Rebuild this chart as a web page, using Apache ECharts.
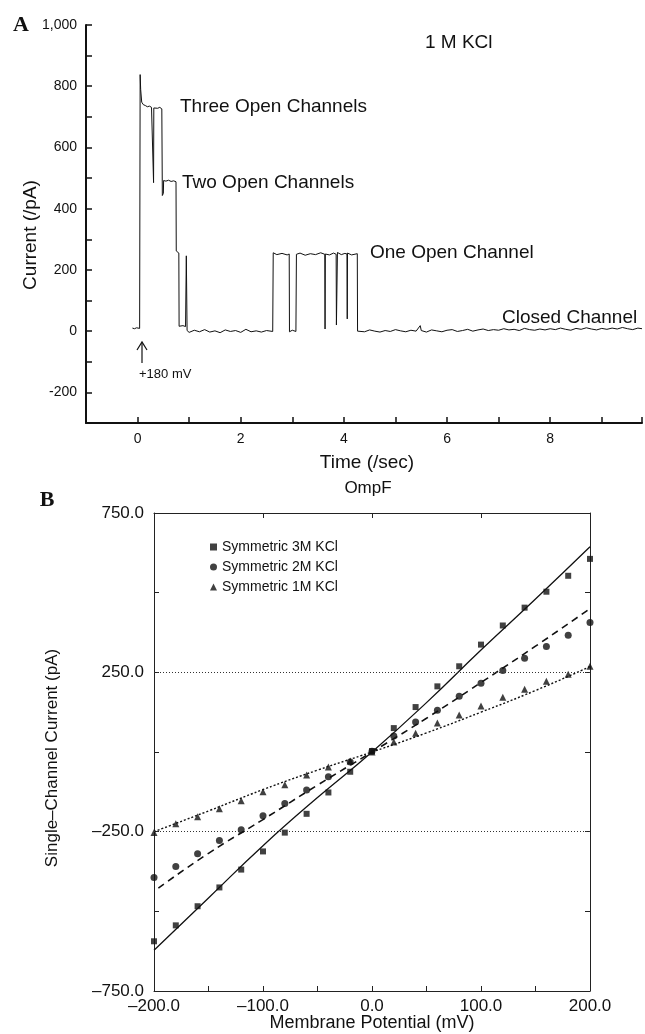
<!DOCTYPE html>
<html>
<head>
<meta charset="utf-8">
<script src="https://cdn.jsdelivr.net/npm/echarts@6/dist/echarts.min.js"></script>
<style>
html, body { margin: 0; padding: 0; background: #fff; }
#main { width: 645px; height: 1034px; }
</style>
</head>
<body>
<div id="main"></div>
<script>
// A: single channel current trace, 1 M KCl (time in sec, current in pA)
var traceT = [-0.10, -0.06, -0.02, 0.04,
	0.05, 0.06, 0.08, 0.11, 0.15, 0.19, 0.23, 0.27, 0.305, 0.31, 0.315, 0.35, 0.39, 0.43, 0.47,
	0.48, 0.50, 0.505, 0.55, 0.60, 0.65, 0.70, 0.745,
	0.75, 0.78, 0.80, 0.805, 0.84, 0.88, 0.93, 0.945, 0.955, 0.96,
	1.0, 1.1, 1.2, 1.3, 1.4, 1.5, 1.6, 1.7, 1.8, 1.9, 2.0, 2.1, 2.2, 2.3, 2.4, 2.5, 2.62,
	2.63, 2.7, 2.8, 2.9, 2.94, 2.945, 3.0, 3.07,
	3.08, 3.15, 3.25, 3.35, 3.45, 3.55, 3.63, 3.635, 3.64, 3.72, 3.8, 3.85, 3.855, 3.87, 3.875,
	3.95, 4.02, 4.06, 4.065, 4.07, 4.15, 4.26, 4.265,
	4.3, 4.4, 4.5, 4.6, 4.7, 4.8, 4.9, 5.0, 5.1, 5.2, 5.3, 5.4, 5.48, 5.5, 5.6, 5.7, 5.8, 5.9,
	6.0, 6.1, 6.2, 6.3, 6.4, 6.5, 6.6, 6.7, 6.8, 6.9, 7.0, 7.1, 7.2, 7.3, 7.4, 7.5, 7.6, 7.7, 7.8, 7.9,
	8.0, 8.1, 8.2, 8.3, 8.4, 8.5, 8.6, 8.7, 8.8, 8.9, 9.0, 9.1, 9.2, 9.3, 9.4, 9.5, 9.6, 9.7, 9.78];
var traceI = [10, 8, 11, 9,
	838, 790, 748, 740, 737, 733, 735, 731, 733, 485, 729, 733, 728, 731, 726,
	443, 450, 492, 490, 493, 489, 491, 488,
	262, 258, 255, 16, 14, 18, 15, 246, 240, 2,
	-4, 3, -2, 5, -3, 1, -5, 4, -1, 2, -4, 6, -2, 1, -3, 2, -1,
	256, 250, 254, 249, 252, -2, 3, -1,
	251, 255, 248, 253, 250, 256, 251, 7, 252, 249, 255, 251, 20, 18, 257,
	250, 254, 252, 40, 255, 249, 253, 0,
	3, -2, 4, 0, -3, 2, -1, 5, 1, -2, 3, 0, 18, 2, -3, 4, 1, -2,
	3, 5, -1, 2, 6, 0, 4, 7, 2, 5, 3, 8, 4, 6, 2, 9, 5, 3, 7, 4,
	8, 5, 10, 6, 3, 9, 6, 11, 7, 4, 9, 6, 10, 7, 12, 8, 5, 10, 8];

// B: OmpF I-V, membrane potential (mV) vs single-channel current (pA)
var potential = [-200, -180, -160, -140, -120, -100, -80, -60, -40, -20, 0,
	20, 40, 60, 80, 100, 120, 140, 160, 180, 200];
var kcl3M = [-594, -544, -484, -425, -369, -312, -253, -194, -127, -62, 3,
	75, 141, 206, 269, 337, 397, 453, 503, 553, 606];
var kcl2M = [-394, -359, -319, -278, -244, -200, -162, -119, -78, -31, 2,
	50, 94, 131, 175, 216, 256, 294, 331, 366, 406];
var kcl1M = [-253, -225, -203, -178, -153, -125, -103, -72, -47, -28, 0,
	31, 59, 91, 116, 144, 172, 197, 222, 244, 269];
// fitted curves
var fitV = [-200, -150, -100, -50, 0, 50, 100, 150, 200];
var fitV2 = [-196, -150, -100, -50, 0, 50, 100, 150, 200];
var fit3M = [-622, -458, -294, -143, 0, 155, 320, 480, 644];
var fit2M = [-427, -318, -212, -104, 0, 106, 218, 332, 450];
var fit1M = [-250, -185, -118, -57, 0, 60, 125, 193, 268];
var refLines = [250, -250];

var seriesNames = ['Symmetric 3M KCl', 'Symmetric 2M KCl', 'Symmetric 1M KCl'];

function pairs(xs, ys) {
	var out = [];
	for (var i = 0; i < xs.length; i++) {
		out.push([xs[i], ys[i]]);
	}
	return out;
}

var FONT = "'Liberation Sans', Arial, sans-serif";
var INK = '#111';

// minus sign in panel B looks like a dash
function fmtB(v) {
	var s = Math.abs(v).toFixed(1);
	return v < 0 ? '\u2013' + s : s;
}

var myChart = echarts.init(document.getElementById('main'));

var option = {
	backgroundColor: '#fff',
	animation: false,
	textStyle: { fontFamily: FONT, color: INK },
	grid: [
		{ left: 86, top: 25, right: 0, height: 398 },
		{ left: 154, top: 513, width: 436, height: 478 }
	],
	xAxis: [
		{
			type: 'value', gridIndex: 0, min: -1, max: 9.78, interval: 1,
			axisLine: { onZero: false, lineStyle: { color: INK, width: 2 } },
			axisTick: { inside: true, length: 6, lineStyle: { color: INK, width: 1.5 } },
			axisLabel: {
				fontSize: 14, color: INK, margin: 9,
				formatter: function(v) { return (v % 2 === 0) ? String(v) : ''; }
			},
			splitLine: { show: false }
		},
		{
			type: 'value', gridIndex: 1, min: -200, max: 200, interval: 50,
			axisLine: { onZero: false, lineStyle: { color: '#222', width: 1 } },
			axisTick: { inside: true, length: 5, lineStyle: { color: '#222' } },
			axisLabel: {
				fontSize: 17, color: INK, margin: 7,
				formatter: function(v) { return (v % 100 === 0) ? fmtB(v) : ''; }
			},
			splitLine: { show: false }
		},
		{
			type: 'value', gridIndex: 1, position: 'top', min: -200, max: 200, interval: 100,
			axisLine: { onZero: false, lineStyle: { color: '#222', width: 1 } },
			axisTick: { inside: true, length: 5, lineStyle: { color: '#222' } },
			axisLabel: { show: false },
			splitLine: { show: false }
		}
	],
	yAxis: [
		{
			type: 'value', gridIndex: 0, min: -300, max: 1000, interval: 100,
			axisLine: { show: true, onZero: false, lineStyle: { color: INK, width: 2 } },
			axisTick: { show: true, inside: true, length: 6, lineStyle: { color: INK, width: 1.5 } },
			axisLabel: {
				fontSize: 14, color: INK, margin: 9,
				formatter: function(v) {
					if (v % 200 !== 0) return '';
					return v === 1000 ? '1,000' : String(v);
				}
			},
			splitLine: { show: false }
		},
		{
			type: 'value', gridIndex: 1, min: -750, max: 750, interval: 250,
			axisLine: { show: true, onZero: false, lineStyle: { color: '#222', width: 1 } },
			axisTick: { show: true, inside: true, length: 5, lineStyle: { color: '#222' } },
			axisLabel: {
				fontSize: 17, color: INK, margin: 10,
				formatter: function(v) { return (v % 500 !== 0) ? fmtB(v) : ''; }
			},
			splitLine: { show: false }
		},
		{
			type: 'value', gridIndex: 1, position: 'right', min: -750, max: 750, interval: 250,
			axisLine: { show: true, onZero: false, lineStyle: { color: '#222', width: 1 } },
			axisTick: { show: true, inside: true, length: 5, lineStyle: { color: '#222' } },
			axisLabel: { show: false },
			splitLine: { show: false }
		}
	],
	legend: {
		data: seriesNames,
		orient: 'vertical',
		left: 205, top: 535,
		itemWidth: 7, itemHeight: 7, itemGap: 6,
		textStyle: { fontSize: 14, color: INK, lineHeight: 14 }
	},
	graphic: [
		{ type: 'text', x: 21, y: 25, style: { text: 'A', font: 'bold 22px "Liberation Serif", serif', fill: INK, align: 'center', verticalAlign: 'middle' } },
		{ type: 'text', x: 47, y: 500, style: { text: 'B', font: 'bold 22px "Liberation Serif", serif', fill: INK, align: 'center', verticalAlign: 'middle' } },
		{ type: 'text', x: 31, y: 235, rotation: Math.PI / 2, style: { text: 'Current (/pA)', font: '19px ' + FONT, fill: INK, align: 'center', verticalAlign: 'middle' } },
		{ type: 'text', x: 367, y: 463, style: { text: 'Time (/sec)', font: '19px ' + FONT, fill: INK, align: 'center', verticalAlign: 'middle' } },
		{ type: 'text', x: 425, y: 43, style: { text: '1 M KCl', font: '19px ' + FONT, fill: INK, align: 'left', verticalAlign: 'middle' } },
		{ type: 'text', x: 180, y: 107, style: { text: 'Three Open Channels', font: '19px ' + FONT, fill: INK, align: 'left', verticalAlign: 'middle' } },
		{ type: 'text', x: 182, y: 183, style: { text: 'Two Open Channels', font: '19px ' + FONT, fill: INK, align: 'left', verticalAlign: 'middle' } },
		{ type: 'text', x: 370, y: 253, style: { text: 'One Open Channel', font: '19px ' + FONT, fill: INK, align: 'left', verticalAlign: 'middle' } },
		{ type: 'text', x: 502, y: 318, style: { text: 'Closed Channel', font: '19px ' + FONT, fill: INK, align: 'left', verticalAlign: 'middle' } },
		{ type: 'text', x: 139, y: 374, style: { text: '+180 mV', font: '13px ' + FONT, fill: INK, align: 'left', verticalAlign: 'middle' } },
		{ type: 'polyline', shape: { points: [[142, 363], [142, 343]] }, style: { stroke: INK, lineWidth: 1.2 } },
		{ type: 'polyline', shape: { points: [[137, 350], [142, 342], [147, 350]] }, style: { stroke: INK, lineWidth: 1.2, fill: null } },
		{ type: 'text', x: 368, y: 488, style: { text: 'OmpF', font: '17px ' + FONT, fill: INK, align: 'center', verticalAlign: 'middle' } },
		{ type: 'text', x: 52, y: 758, rotation: Math.PI / 2, style: { text: 'Single\u2013Channel Current (pA)', font: '17px ' + FONT, fill: INK, align: 'center', verticalAlign: 'middle' } },
		{ type: 'text', x: 372, y: 1023, style: { text: 'Membrane Potential (mV)', font: '18px ' + FONT, fill: INK, align: 'center', verticalAlign: 'middle' } }
	],
	series: [
		{
			name: 'trace', type: 'line', xAxisIndex: 0, yAxisIndex: 0,
			data: pairs(traceT, traceI),
			showSymbol: false, symbol: 'none',
			lineStyle: { color: INK, width: 1 }
		},
		{
			name: 'fit3M', type: 'line', xAxisIndex: 1, yAxisIndex: 1,
			data: pairs(fitV, fit3M), smooth: true, symbol: 'none',
			lineStyle: { color: INK, width: 1.3 },
			markLine: {
				silent: true, symbol: 'none',
				label: { show: false },
				lineStyle: { color: '#333', width: 1, type: [1, 2] },
				data: refLines.map(function(v) { return { yAxis: v }; })
			}
		},
		{
			name: 'fit2M', type: 'line', xAxisIndex: 1, yAxisIndex: 1,
			data: pairs(fitV2, fit2M), smooth: true, symbol: 'none',
			lineStyle: { color: INK, width: 1.6, type: [7, 5] }
		},
		{
			name: 'fit1M', type: 'line', xAxisIndex: 1, yAxisIndex: 1,
			data: pairs(fitV, fit1M), smooth: true, symbol: 'none',
			lineStyle: { color: INK, width: 1.4, type: [2, 2] }
		},
		{
			name: seriesNames[0], type: 'scatter', xAxisIndex: 1, yAxisIndex: 1,
			data: pairs(potential, kcl3M), symbol: 'rect', symbolSize: 6,
			itemStyle: { color: INK }
		},
		{
			name: seriesNames[1], type: 'scatter', xAxisIndex: 1, yAxisIndex: 1,
			data: pairs(potential, kcl2M), symbol: 'circle', symbolSize: 7,
			itemStyle: { color: INK }
		},
		{
			name: seriesNames[2], type: 'scatter', xAxisIndex: 1, yAxisIndex: 1,
			data: pairs(potential, kcl1M), symbol: 'triangle', symbolSize: 7,
			itemStyle: { color: INK }
		}
	]
};

myChart.setOption(option);
</script>
</body>
</html>
